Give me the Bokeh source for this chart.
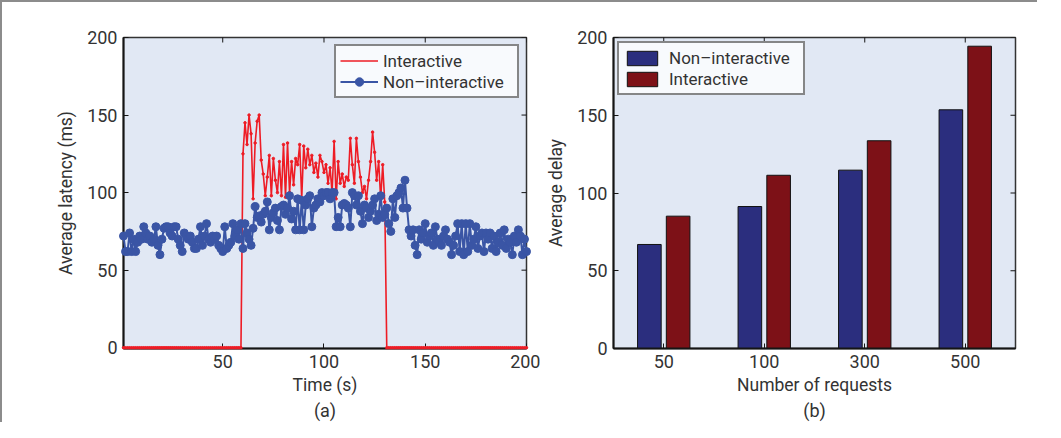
import math
from bokeh.plotting import figure
from bokeh.models import ColumnDataSource, FixedTicker, Title, FactorRange, Range1d
from bokeh.transform import dodge
from bokeh.layouts import row
from bokeh.embed import file_html
from bokeh.resources import INLINE

# ---------------- data ----------------
time_s = list(range(1, 201))

non_interactive = [
    72, 62, 62, 74, 62, 70, 62, 68, 72, 70,
    78, 74, 70, 72, 68, 70, 78, 66, 60, 70,
    77, 78, 78, 74, 72, 78, 78, 70, 66, 62,
    74, 72, 70, 72, 68, 64, 64, 70, 78, 66,
    72, 80, 70, 68, 72, 70, 72, 66, 64, 62,
    78, 64, 66, 68, 80, 72, 76, 70, 80, 64,
    80, 74, 70, 66, 77, 91, 84, 85, 81, 86,
    88, 94, 76, 84, 87, 90, 82, 76, 91, 92,
    86, 90, 98, 83, 88, 76, 96, 76, 95, 76,
    92, 96, 98, 78, 90, 92, 96, 94, 100, 98,
    100, 100, 96, 100, 100, 78, 84, 78, 92, 93,
    92, 90, 78, 100, 98, 92, 98, 88, 80, 92,
    90, 84, 88, 92, 96, 82, 86, 98, 84, 86,
    90, 80, 75, 96, 84, 98, 100, 103, 90, 108,
    90, 76, 72, 76, 66, 60, 76, 70, 74, 80,
    68, 72, 74, 66, 78, 70, 68, 66, 72, 76,
    70, 68, 60, 66, 72, 80, 62, 80, 60, 80,
    62, 80, 66, 70, 78, 64, 72, 74, 62, 74,
    70, 74, 64, 72, 62, 68, 74, 66, 76, 64,
    70, 68, 60, 72, 68, 76, 72, 60, 70, 62,
]

interactive_active = [  # t = 60 .. 130
    125, 145, 131, 150, 138, 96, 132, 146, 150, 121,
    112, 98, 110, 124, 98, 122, 108, 100, 120, 98,
    131, 97, 132, 100, 120, 105, 122, 118, 131, 96,
    130, 116, 128, 118, 124, 113, 119, 110, 124, 120,
    113, 118, 106, 116, 100, 133, 96, 120, 106, 112,
    104, 110, 108, 135, 118, 106, 135, 120, 110, 100,
    104, 96, 108, 120, 139, 126, 108, 120, 96, 118,
    94,
]
interactive = [0] * 59 + interactive_active + [0] * 70

categories = ["50", "100", "300", "500"]
bar_non_interactive = [66.9, 91.3, 114.7, 153.5]
bar_interactive = [85.1, 111.4, 133.6, 194.4]

y_ticks = [0, 50, 100, 150, 200]
x_ticks = [50, 100, 150, 200]

# ---------------- style ----------------
FONT = "Roboto"
TXT = "#333333"
BG = "#e1e8f4"
RED = "#ee1c25"
BLUE = "#3a55a5"
BAR_BLUE = "#2b2e7e"
BAR_RED = "#7d1117"
TICK_FS = "18px"
LAB_FS = "17.5px"


def style_axis(ax):
    ax.axis_line_width = 2
    ax.axis_line_color = "#151515"
    ax.major_tick_in = 5
    ax.major_tick_out = 0
    ax.minor_tick_in = 0
    ax.minor_tick_out = 0
    ax.major_tick_line_color = "#151515"
    ax.major_tick_line_width = 1
    ax.major_label_text_font = FONT
    ax.major_label_text_color = TXT
    ax.major_label_text_font_size = TICK_FS
    ax.major_label_standoff = 6
    ax.axis_label_text_font = FONT
    ax.axis_label_text_color = TXT
    ax.axis_label_text_font_style = "normal"
    ax.axis_label_text_font_size = LAB_FS


def style_legend(lg):
    lg.label_text_font = FONT
    lg.label_text_font_size = "17px"
    lg.label_text_color = TXT
    lg.border_line_color = "#111111"
    lg.border_line_width = 2
    lg.background_fill_color = "#f8fafd"
    lg.background_fill_alpha = 1.0
    lg.padding = 4
    lg.spacing = 0
    lg.label_height = 21
    lg.glyph_height = 21
    lg.glyph_width = 38
    lg.label_width = 130


def add_caption(p, text):
    t = Title(text=text, align="center", text_font=FONT, text_font_size=TICK_FS,
              text_font_style="normal", text_color=TXT, standoff=0)
    p.add_layout(t, "below")


common = dict(output_backend="svg", toolbar_location=None, background_fill_color=BG,
              border_fill_color="white", outline_line_color="#333333",
              outline_line_width=1.5, min_border_top=35, min_border_bottom=74)

# ---------------- left: latency over time ----------------
p1 = figure(frame_width=403, frame_height=311,
            x_range=Range1d(1, 200), y_range=Range1d(-0.5, 200),
            min_border_left=121, min_border_right=14, **common)
p1.grid.visible = False
p1.xaxis.ticker = FixedTicker(ticks=x_ticks)
p1.yaxis.ticker = FixedTicker(ticks=y_ticks)
p1.xaxis.axis_label = "Time (s)"
p1.yaxis.axis_label = "Average latency (ms)"
style_axis(p1.xaxis[0])
style_axis(p1.yaxis[0])
p1.xaxis[0].axis_label_standoff = 4
p1.yaxis[0].axis_label_standoff = 8

# mirrored inward ticks on the top and right edges
p1.scatter(x=x_ticks, y=[p1.y_range.end] * len(x_ticks), marker="dash",
           angle=math.pi / 2, size=10, line_color="#151515", line_width=1)
p1.scatter(x=[p1.x_range.end] * len(y_ticks), y=y_ticks, marker="dash",
           size=10, line_color="#151515", line_width=1)

src1 = ColumnDataSource(dict(t=time_s, inter=interactive, non=non_interactive))
p1.line("t", "inter", source=src1, color=RED, line_width=1.6,
        legend_label="Interactive", level="overlay")
p1.scatter("t", "inter", source=src1, color=RED, size=2.5, level="overlay")
p1.line("t", "non", source=src1, color=BLUE, line_width=2,
        legend_label="Non\u2013interactive", level="overlay")
p1.scatter("t", "non", source=src1, color=BLUE, size=8,
           legend_label="Non\u2013interactive", level="overlay")

lg1 = p1.legend[0]
style_legend(lg1)
lg1.location = "top_right"
lg1.margin = 7
add_caption(p1, "(a)")

# ---------------- right: bar chart ----------------
src2 = ColumnDataSource(dict(cat=categories, non=bar_non_interactive, inter=bar_interactive))

p2 = figure(frame_width=402, frame_height=311,
            x_range=FactorRange(factors=categories), y_range=Range1d(0, 200),
            min_border_left=73, min_border_right=22, **common)
p2.grid.visible = False
p2.yaxis.ticker = FixedTicker(ticks=y_ticks)
p2.xaxis.axis_label = "Number of requests"
p2.yaxis.axis_label = "Average delay"
style_axis(p2.xaxis[0])
style_axis(p2.yaxis[0])
p2.xaxis[0].axis_label_standoff = 4
p2.yaxis[0].axis_label_standoff = 8

p2.vbar(x=dodge("cat", -0.143, range=p2.x_range), top="non", width=0.235, source=src2,
        fill_color=BAR_BLUE, line_color="#111111", line_width=1,
        legend_label="Non\u2013interactive")
p2.vbar(x=dodge("cat", 0.143, range=p2.x_range), top="inter", width=0.235, source=src2,
        fill_color=BAR_RED, line_color="#111111", line_width=1,
        legend_label="Interactive")

# mirrored inward ticks on the top and right edges
src_top = ColumnDataSource(dict(cat=categories, y=[p2.y_range.end] * len(categories)))
p2.scatter(x="cat", y="y", source=src_top, marker="dash", angle=math.pi / 2, size=10,
           line_color="#151515", line_width=1)
src_right = ColumnDataSource(dict(cat=[categories[-1]] * len(y_ticks), y=y_ticks))
p2.scatter(x=dodge("cat", 0.5, range=p2.x_range), y="y", source=src_right, marker="dash",
           size=10, line_color="#151515", line_width=1)

lg2 = p2.legend[0]
style_legend(lg2)
lg2.glyph_height = 18
lg2.label_standoff = 8
lg2.location = "top_left"
lg2.margin = 4
add_caption(p2, "(b)")

layout = row(p1, p2, styles={"border-left": "2px solid #8c8c8c",
                             "border-top": "2px solid #8c8c8c"})

open("out.html", "w").write(file_html(layout, INLINE))
